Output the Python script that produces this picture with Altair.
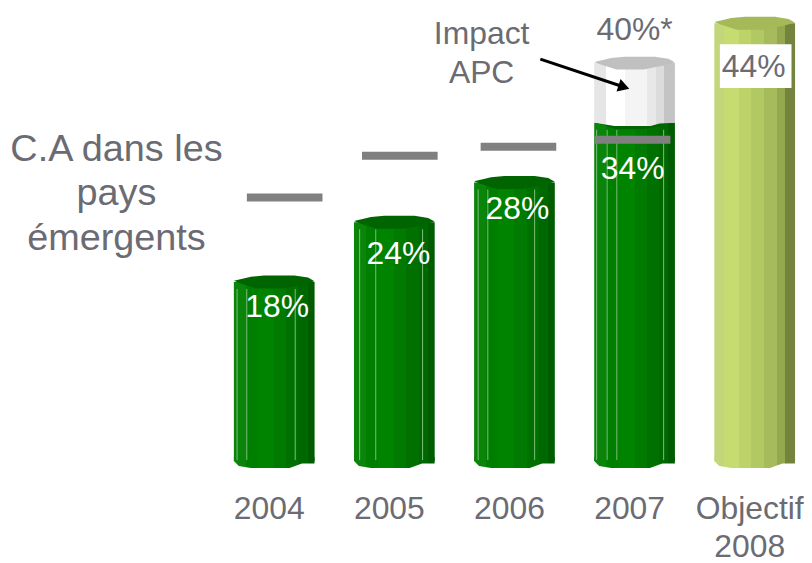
import altair as alt
import pandas as pd

categories = ["2004", "2005", "2006", "2007", "Objectif 2008"]
green_cats = ["2004", "2005", "2006", "2007"]
green_values = [18, 24, 28, 34]
target_values = [25.9, 30.1, 31.0, 31.7]
apc_value = 40
goal_value = 44
target_x_offsets = [10.5, 5.5, 4, -2]
label_layout = [(3, 31), (4, 38), (3, 33), (-2, 52)]
facets = {
    "2004": [0.04, 0.16, 0.76],
    "2005": [0.07, 0.27, 0.85],
    "2006": [0.05, 0.17, 0.75],
    "2007": [0.03, 0.16, 0.28, 0.86],
}

FONT = "Liberation Sans"
TEXT = "#6b6b73"
TOP_CAP = "M-1,-0.03 L-0.58,-0.13 L-0.25,-0.16 L0.5,-0.16 L0.84,-0.11 L1,-0.02 L0.72,0.06 L0.22,0.16 L-0.45,0.16 L-0.88,0.02 Z"
BOTTOM_CAP = "M-1,-0.1 L1,-0.1 L1,0.057 L0.69,0.057 L0.38,0.17 L-0.58,0.17 L-0.88,0.12 L-1,0 Z"
WHITE_BASE = "M-1,-0.1 L1,-0.1 L1,0 L0.62,0.02 L0.4,0.08 L-0.5,0.08 L-0.88,0.02 L-1,-0.02 Z"


def gradient(stops):
    s = []
    for i, (off, col) in enumerate(stops):
        s.append(alt.GradientStop(offset=off, color=col))
        s.append(alt.GradientStop(offset=stops[i + 1][0] if i + 1 < len(stops) else 1, color=col))
    return alt.LinearGradient(gradient="linear", x1=0, y1=0, x2=1, y2=0, stops=s)


GREEN = gradient([(0, "#0a850a"), (0.15, "#007e00"), (0.3, "#008400"), (0.5, "#007a00"),
                  (0.65, "#007000"), (0.8, "#006800"), (0.92, "#005c00")])
WHITE = gradient([(0, "#e6e6e6"), (0.15, "#ffffff"), (0.38, "#f4f4f4"), (0.66, "#e8e8e8"),
                  (0.77, "#dcdcdc"), (0.87, "#c4c4c4")])
LIME = gradient([(0, "#c3d67c"), (0.12, "#c6dc70"), (0.3, "#bdd36a"), (0.45, "#b2c863"),
                 (0.62, "#a6bb5c"), (0.78, "#95a850"), (0.88, "#74843f")])

x_scale = alt.Scale(domain=categories, range=[227, 791], paddingInner=0.328, paddingOuter=0, round=False)
y_scale = alt.Scale(domain=[-1.2, 44.8], nice=False, zero=False)
x_axis = alt.Axis(title=None, domain=False, ticks=False, labelAngle=0, labelFontSize=32,
                  labelFont=FONT, labelColor=TEXT, labelPadding=27, labelOffset=-5,
                  labelOverlap=False, labelLineHeight=38,
                  labelExpr="datum.label == 'Objectif 2008' ? ['Objectif','2008'] : datum.label")

xn = alt.X("cat:N", sort=categories, scale=x_scale, axis=x_axis)
y = alt.Y("v:Q", scale=y_scale, axis=None)

green_df = pd.DataFrame({"cat": green_cats, "v": green_values, "base": 0})
apc_df = pd.DataFrame({"cat": ["2007"], "v": [apc_value], "base": [34]})
goal_df = pd.DataFrame({"cat": ["Objectif 2008"], "v": [goal_value], "base": [0]})
CAP = dict(filled=True, size=6561, opacity=1, strokeWidth=0)


def cylinder(df, fill, cap, low_path, y2off=6):
    body = alt.Chart(df).mark_bar(color=fill, yOffset=6, y2Offset=y2off).encode(
        x=xn, y=y, y2="base:Q")
    top = alt.Chart(df).mark_point(shape=TOP_CAP, color=cap, yOffset=6, **CAP).encode(x=xn, y=y)
    low = alt.Chart(df).mark_point(shape=low_path, color=fill, yOffset=y2off, **CAP).encode(
        x=xn, y=alt.Y("base:Q", scale=y_scale, axis=None))
    return [body, low, top]


layers = []
layers += cylinder(green_df, GREEN, "#006400", BOTTOM_CAP)

facet_rows = [{"cat": c, "f": f, "v": v} for c, v in zip(green_cats, green_values) for f in facets[c]]
for row in facet_rows:
    layers.append(alt.Chart(pd.DataFrame([dict(row, base=0)])).mark_rule(
        color="#7dbd7d", strokeWidth=1, yOffset=13, y2Offset=5).encode(
        x=alt.X("cat:N", sort=categories, bandPosition=row["f"], scale=x_scale, axis=x_axis),
        y=y, y2="base:Q"))

layers += cylinder(apc_df, WHITE, "#c0c0c0", WHITE_BASE, y2off=6)
layers += cylinder(goal_df, LIME, "#a5b959", BOTTOM_CAP)

for c, t, off in zip(green_cats, target_values, target_x_offsets):
    layers.append(alt.Chart(pd.DataFrame({"cat": [c], "v": [t]})).mark_tick(
        color="#808080", thickness=8, size=76, xOffset=off, opacity=1).encode(x=xn, y=y))

for c, v, (dx, dy) in zip(green_cats, green_values, label_layout):
    layers.append(alt.Chart(pd.DataFrame({"cat": [c], "v": [v], "t": [f"{v}%"]})).mark_text(
        font=FONT, fontSize=32, color="white", dx=dx, dy=dy).encode(x=xn, y=y, text="t:N"))

layers.append(alt.Chart(pd.DataFrame({"cat": ["2007"], "v": [apc_value], "t": ["40%*"]})).mark_text(
    font=FONT, fontSize=32, color=TEXT, dy=-27).encode(x=xn, y=y, text="t:N"))

layers.append(alt.Chart(pd.DataFrame({"cat": ["Objectif 2008"], "v": [41.3], "base": [36.9]})).mark_bar(
    color="white", width=72, xOffset=1).encode(x=xn, y=y, y2="base:Q"))
layers.append(alt.Chart(pd.DataFrame({"cat": ["Objectif 2008"], "v": [goal_value], "t": ["44%"]})).mark_text(
    font=FONT, fontSize=32, color=TEXT, dy=50, dx=-1).encode(x=xn, y=y, text="t:N"))

note = pd.DataFrame({"a": [0]})
layers.append(alt.Chart(note).mark_text(
    font=FONT, fontSize=38, color=TEXT, align="center", baseline="middle", lineBreak="\n",
    lineHeight=45, text="C.A dans les\npays\némergents").encode(x=alt.value(109), y=alt.value(141)))
layers.append(alt.Chart(note).mark_text(
    font=FONT, fontSize=32, color=TEXT, align="center", baseline="middle", lineBreak="\n",
    lineHeight=39, text="Impact\nAPC").encode(x=alt.value(476), y=alt.value(25)))
layers.append(alt.Chart(note).mark_rule(color="black", strokeWidth=3).encode(
    x=alt.value(535), x2=alt.value(619), y=alt.value(50), y2=alt.value(78)))
layers.append(alt.Chart(note).mark_point(
    shape="triangle-up", size=170, color="black", filled=True, opacity=1, angle=108, strokeWidth=0).encode(
    x=alt.value(619), y=alt.value(78)))

chart = alt.layer(*layers).properties(
    width=796, height=460,
    padding={"left": 0, "top": 0, "right": 4, "bottom": 95},
    autosize=alt.AutoSizeParams(type="none"),
).configure_view(stroke=None)

chart.save("out.html", embed_options={"renderer": "svg", "actions": False})
